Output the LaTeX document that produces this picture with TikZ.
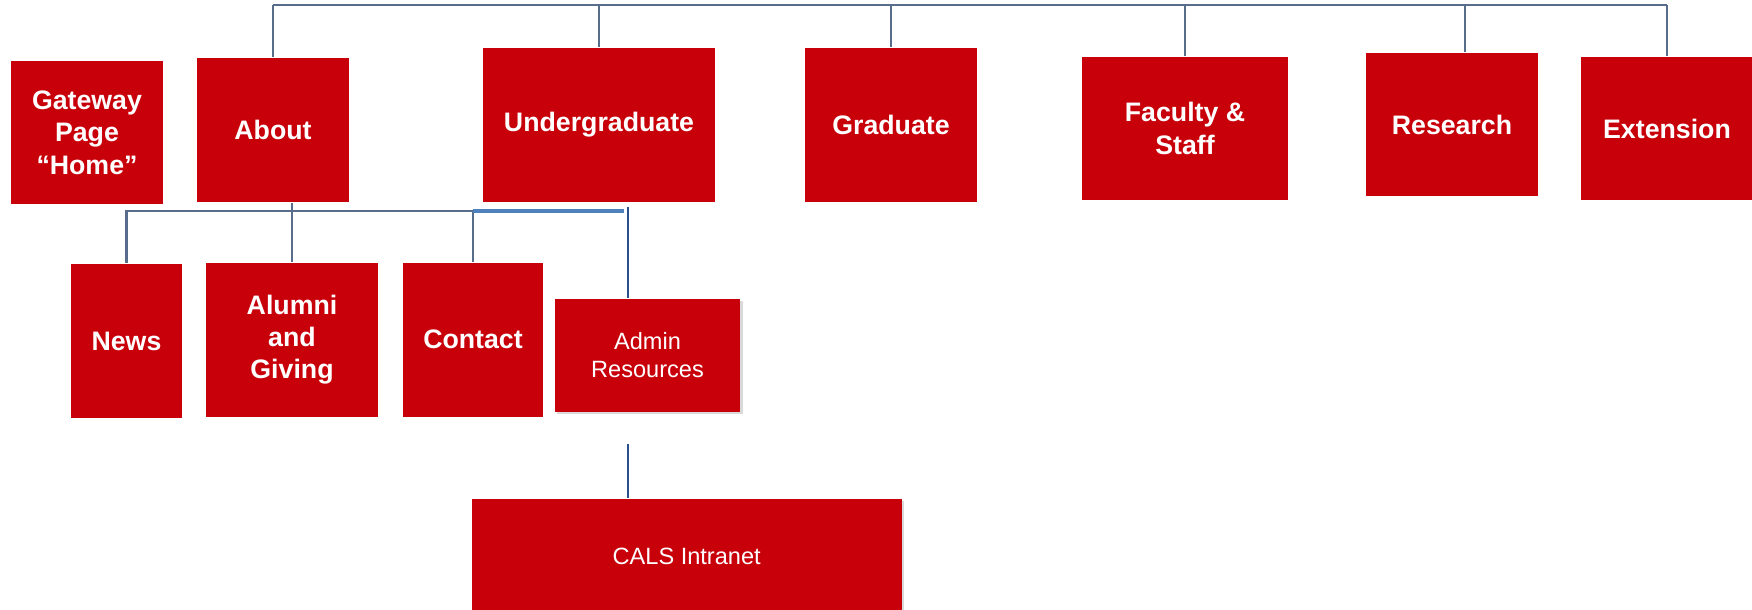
\documentclass[tikz,border=0pt]{standalone}
\usepackage{fontspec}
\setmainfont{Liberation Sans}
\usetikzlibrary{shadows}
\definecolor{calsRed}{RGB}{200,0,10}
\definecolor{linkGray}{RGB}{88,108,140}
\definecolor{linkBlue}{RGB}{79,129,189}
\definecolor{linkDark}{RGB}{40,80,140}
\begin{document}
\begin{tikzpicture}[x=.01cm, y=-.01cm, every node/.style={rectangle, fill=calsRed, text=white, align=center, inner sep=0pt},
	bold/.style={font=\fontsize{7.6}{9.2}\selectfont\bfseries},
	plain/.style={font=\fontsize{6.7}{8.1}\selectfont, drop shadow={shadow xshift=.7pt, shadow yshift=-.7pt, opacity=.3, fill=gray}},
	link/.style={draw=linkGray, line width=.6pt}]
	\useasboundingbox (0,0) rectangle (1752,610);
	% top row
	\node[bold, minimum width=1.52cm, minimum height=1.43cm] (gateway) at (87,132.5) {Gateway\\Page\\“Home”};
	\node[bold, minimum width=1.52cm, minimum height=1.44cm] (about) at (273,130) {About};
	\node[bold, minimum width=2.32cm, minimum height=1.54cm] (undergrad) at (599,125) {Undergraduate};
	\node[bold, minimum width=1.72cm, minimum height=1.54cm] (graduate) at (891,125) {Graduate};
	\node[bold, minimum width=2.05cm, minimum height=1.43cm] (faculty) at (1185,128.5) {Faculty \&\\Staff};
	\node[bold, minimum width=1.72cm, minimum height=1.43cm] (research) at (1452,124.5) {Research};
	\node[bold, minimum width=1.72cm, minimum height=1.43cm] (extension) at (1667,128.5) {Extension};
	% second row
	\node[bold, minimum width=1.11cm, minimum height=1.54cm] (news) at (126.5,341) {News};
	\node[bold, minimum width=1.72cm, minimum height=1.54cm] (alumni) at (292,339.7) {Alumni\\and\\Giving};
	\node[bold, minimum width=1.40cm, minimum height=1.54cm] (contact) at (473,339.7) {Contact};
	\node[plain, minimum width=1.85cm, minimum height=1.13cm] (adminRes) at (647.5,355.3) {Admin\\Resources};
	\node[plain, minimum width=4.30cm, minimum height=1.14cm] (calsIntranet) at (686.7,556) {CALS Intranet};
	% connectors
	\coordinate (trunk) at (0,5);
	\coordinate (branch) at (0,211);
	\coordinate (adminTop) at (628,207);
	\coordinate (calsStub) at (628,444);
	\draw[link] (about.north |- trunk) -- (extension.north |- trunk);
	\foreach \n in {about, undergrad, graduate, faculty, extension}
		\draw[link] (\n.north) -- (\n.north |- trunk);
	\draw[link] ([xshift=.13cm]research.north) -- ([xshift=.13cm]research.north |- trunk);
	\draw[link] (alumni.north) -- (alumni.north |- about.south);
	\draw[link] (news.north) -- (news.north |- branch) -| (contact.north);
	\draw[draw=linkBlue, line width=1.1pt] (contact.north |- branch) -- ([xshift=-.04cm]adminTop |- branch);
	\draw[draw=linkDark, line width=.5pt] (adminTop) -- (adminTop |- adminRes.north);
	\draw[draw=linkDark, line width=.5pt] (calsStub) -- (calsStub |- calsIntranet.north);
\end{tikzpicture}
\end{document}
